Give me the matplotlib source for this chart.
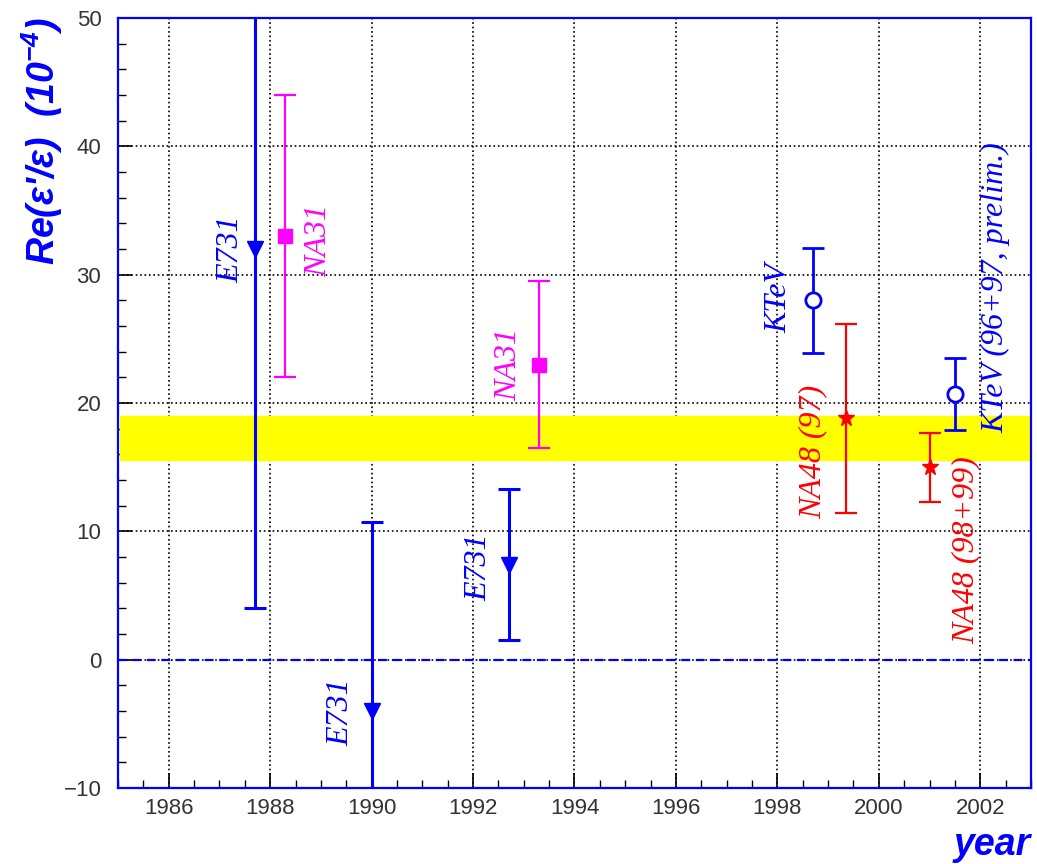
import numpy as np
import matplotlib
matplotlib.use('Agg')
import matplotlib.pyplot as plt

plt.rcParams['mathtext.fontset'] = 'custom'
plt.rcParams['mathtext.rm'] = 'Liberation Sans:bold:italic'
plt.rcParams['mathtext.it'] = 'Liberation Sans:bold:italic'

# measurements of Re(eps'/eps), units 1e-4
e731_year = [1987.7, 1990.0, 1992.7]
e731_val = [32.0, -4.0, 7.4]
e731_err = [28.0, 14.7, 5.9]

na31_year = [1988.3, 1993.3]
na31_val = [33.0, 23.0]
na31_err = [11.0, 6.5]

ktev_year = [1998.7, 2001.5]
ktev_val = [28.0, 20.7]
ktev_err = [4.1, 2.8]

na48_year = [1999.35, 2001.0]
na48_val = [18.8, 15.0]
na48_err = [7.4, 2.7]

band_lo, band_hi = 15.6, 19.0

# text labels: (x, y, text, colour)
labels = [(1987.23, 32.0, 'E731', 'blue'),
          (1988.96, 32.7, 'NA31', 'magenta'),
          (1989.40, -4.1, 'E731', 'blue'),
          (1992.70, 23.0, 'NA31', 'magenta'),
          (1992.11, 7.2, 'E731', 'blue'),
          (1998.02, 28.2, 'KTeV', 'blue'),
          (1998.70, 16.2, 'NA48 (97)', 'red'),
          (2001.71, 8.55, 'NA48 (98+99)', 'red'),
          (2002.30, 29.0, 'KTeV (96+97, prelim.)', 'blue')]

fig = plt.figure(figsize=(10.37, 8.64), dpi=100)
ax = fig.add_axes([0.1138, 0.088, 0.8804, 0.891])

ax.set_xlim(1985, 2003)
ax.set_ylim(-10, 50)
ax.set_xticks(np.arange(1986, 2003, 2))
ax.set_xticks(np.arange(1985, 2003.01, 0.5), minor=True)
ax.set_yticks(np.arange(-10, 51, 10))
ax.set_yticks(np.arange(-10, 51, 2), minor=True)
ax.set_yticklabels(['\u221210', '0', '10', '20', '30', '40', '50'])

for lab in ax.get_xticklabels() + ax.get_yticklabels():
    lab.set_family('Liberation Sans')
    lab.set_fontsize(16)
    lab.set_color('#333333')

ax.tick_params(axis='both', which='both', direction='in', top=False, right=False, color='black')
ax.tick_params(axis='x', which='major', length=11, width=1.2, pad=7)
ax.tick_params(axis='x', which='minor', length=6, width=1.0)
ax.tick_params(axis='y', which='major', length=10, width=1.2, pad=12)
ax.tick_params(axis='y', which='minor', length=6, width=1.0)

for s in ax.spines.values():
    s.set_color('blue')
    s.set_linewidth(1.6)

ax.grid(True, which='major', color='black', linestyle=':', linewidth=1.2, zorder=0)
ax.set_axisbelow(True)

ax.axhspan(band_lo, band_hi, xmin=0.002, xmax=0.998, color='yellow', zorder=1.5)
ax.axhline(0, color='blue', linestyle=(0, (4, 2.5)), linewidth=1.6, zorder=2)

ax.errorbar(e731_year, e731_val, yerr=e731_err, fmt='v', color='blue', ms=12,
            elinewidth=2.2, capsize=8, capthick=2.2, zorder=3)
ax.errorbar(na31_year, na31_val, yerr=na31_err, fmt='s', color='magenta', ms=10,
            elinewidth=1.6, capsize=8, capthick=1.6, zorder=3)
ax.errorbar(ktev_year, ktev_val, yerr=ktev_err, fmt='o', color='blue', mfc='white', ms=11,
            mew=2.0, elinewidth=2.0, capsize=8, capthick=2.0, zorder=3)
ax.errorbar(na48_year, na48_val, yerr=na48_err, fmt='*', color='red', ms=12,
            elinewidth=1.6, capsize=8, capthick=1.6, zorder=3)

for x, y, t, c in labels:
    ax.text(x, y, t, color=c, rotation=90, ha='center', va='center',
            fontsize=23, family='Liberation Serif', style='italic', zorder=4)

ax.set_ylabel("Re(\u03b5'/\u03b5)  (10$^{-4}$)", fontsize=27, color='blue',
              family='Liberation Sans', weight='bold', style='italic', va='center')
ax.yaxis.set_label_coords(-0.083, 0.84)
ax.set_xlabel('year', fontsize=27, color='blue', family='Liberation Sans',
              weight='bold', style='italic', ha='right', va='center')
ax.xaxis.set_label_coords(1.0, -0.074)

plt.savefig('out.png', dpi=100)
